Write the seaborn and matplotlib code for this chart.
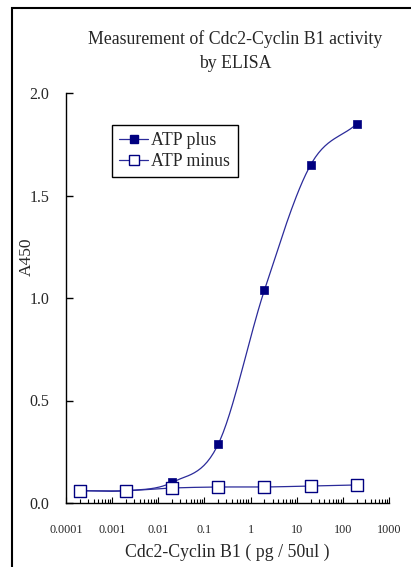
import seaborn as sns
import matplotlib.pyplot as plt
import matplotlib.ticker as mticker
from matplotlib.lines import Line2D
from matplotlib.patches import Rectangle
import pandas as pd
import numpy as np

# Data
conc = [0.0002, 0.002, 0.02, 0.2, 2, 20, 200]  # pg / 50ul
atp_plus = [0.060, 0.060, 0.101, 0.288, 1.039, 1.649, 1.849]
atp_minus = [0.060, 0.060, 0.073, 0.078, 0.078, 0.083, 0.088]

y_ticks = [0.0, 0.5, 1.0, 1.5, 2.0]
x_ticks = [0.0001, 0.001, 0.01, 0.1, 1, 10, 100, 1000]
x_labels = ["0.0001", "0.001", "0.01", "0.1", "1", "10", "100", "1000"]

sns.set_style("white")
plt.rcParams["font.family"] = ["Liberation Serif", "DejaVu Serif"]

NAVY = "#000080"
LINE = "#2b2b9a"


def smooth(xs, ys, n=30):
    # Catmull-Rom curve in log-x space, like a spreadsheet "smoothed line"
    lx = np.log10(xs)
    ys = np.asarray(ys, float)
    px = np.concatenate([[2 * lx[0] - lx[1]], lx, [2 * lx[-1] - lx[-2]]])
    py = np.concatenate([[2 * ys[0] - ys[1]], ys, [2 * ys[-1] - ys[-2]]])
    out_x, out_y = [], []
    t = np.linspace(0, 1, n)
    for i in range(1, len(px) - 2):
        for p, out in ((px, out_x), (py, out_y)):
            p0, p1, p2, p3 = p[i - 1], p[i], p[i + 1], p[i + 2]
            out.extend(0.5 * (2 * p1 + (-p0 + p2) * t
                              + (2 * p0 - 5 * p1 + 4 * p2 - p3) * t ** 2
                              + (-p0 + 3 * p1 - 3 * p2 + p3) * t ** 3))
    return 10 ** np.array(out_x), np.array(out_y)


fig = plt.figure(figsize=(4.11, 5.67), dpi=100)
ax = fig.add_axes([66 / 411, 1 - 503 / 567, 323 / 411, 410 / 567])

for vals in (atp_plus, atp_minus):
    sx, sy = smooth(conc, vals)
    sns.lineplot(x=sx, y=sy, ax=ax, color=LINE, lw=0.9, sort=False,
                 estimator=None)

df = pd.DataFrame({"conc": conc, "plus": atp_plus, "minus": atp_minus})
sns.scatterplot(data=df, x="conc", y="plus", ax=ax, marker="s", s=36,
                color=NAVY, edgecolor=NAVY, linewidth=0.5, zorder=3)
sns.scatterplot(data=df, x="conc", y="minus", ax=ax, marker="s", s=72,
                color="white", edgecolor=NAVY, linewidth=1.0, zorder=4)

ax.set_xscale("log")
ax.set_xlim(1e-4, 1e3)
ax.set_ylim(0, 2.0)
ax.set_xticks(x_ticks)
ax.set_xticklabels(x_labels)
ax.set_yticks(y_ticks)
ax.yaxis.set_major_formatter(mticker.FormatStrFormatter("%.1f"))
ax.xaxis.set_minor_locator(mticker.LogLocator(base=10, subs=np.arange(2, 10),
                                              numticks=30))
ax.xaxis.set_minor_formatter(mticker.NullFormatter())

for side in ("top", "right"):
    ax.spines[side].set_visible(False)
for side in ("left", "bottom"):
    ax.spines[side].set_color("black")
    ax.spines[side].set_linewidth(1.0)

ax.tick_params(axis="y", which="major", direction="in", length=5, width=1,
               pad=12, labelsize=11.5, color="black", left=True)
ax.tick_params(axis="x", which="major", direction="in", length=4, width=0.8,
               pad=15, labelsize=8.7, color="black", bottom=True)
ax.tick_params(axis="x", which="minor", direction="in", length=3, width=0.8,
               color="black", bottom=True)

ax.set_xlabel("Cdc2-Cyclin B1 ( pg / 50ul )", fontsize=12.8)
ax.set_ylabel("A450", fontsize=12.5)
ax.xaxis.set_label_coords(0.5, -0.10)
ax.yaxis.set_label_coords(-0.098, 0.60)

fig.text(235 / 411, 1 - 51 / 567, "Measurement of Cdc2-Cyclin B1 activity\nby ELISA",
         ha="center", va="center", fontsize=12.8, linespacing=1.5)

handles = [
    Line2D([], [], color=LINE, lw=0.9, marker="s", markersize=6,
           markerfacecolor=NAVY, markeredgecolor=NAVY),
    Line2D([], [], color=LINE, lw=0.9, marker="s", markersize=7.5,
           markerfacecolor="white", markeredgecolor=NAVY),
]
leg = ax.legend(handles, ["ATP plus", "ATP minus"], loc="upper left",
                bbox_to_anchor=(112 / 411, 1 - 125 / 567),
                bbox_transform=fig.transFigure, fontsize=12.8, frameon=True,
                fancybox=False, edgecolor="black", framealpha=1,
                handlelength=1.6, handletextpad=0.2, borderpad=0.42,
                labelspacing=0.2, borderaxespad=0)
leg.get_frame().set_linewidth(1.0)

# outer chart border (cropped on the right and bottom)
fig.patches.append(Rectangle((12 / 411, -0.2), 1.2, 1.2 - 8 / 567,
                             transform=fig.transFigure, fill=False,
                             edgecolor="black", lw=1.5, clip_on=False))

fig.savefig("out.png", dpi=100)
plt.close(fig)
